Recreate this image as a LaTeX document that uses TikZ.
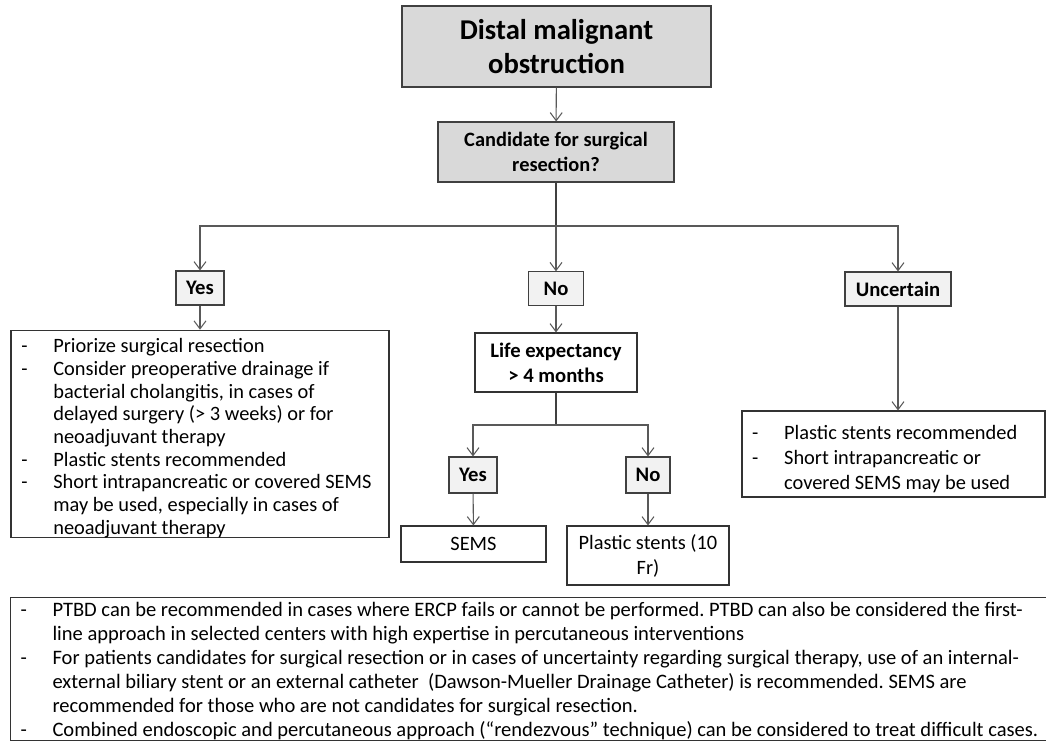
\documentclass[tikz,border=0pt]{standalone}
\usepackage{fontspec}
\setmainfont{Carlito}
\usetikzlibrary{arrows.meta,positioning}
\frenchspacing

% one list entry: dash, then hanging text
\newcommand{\dashitem}[1]{\par\noindent\hangindent=24pt\hangafter=1\makebox[24pt][l]{-}#1\par}

\tikzset{
  headbox/.style={draw=black!75,fill=black!15,line width=0.8pt,align=center,font=\bfseries},
  answer/.style={draw=black!75,fill=black!5,line width=0.8pt,align=center,inner sep=0pt,
    font=\fontsize{15.5pt}{18.75pt}\selectfont\bfseries},
  plainbox/.style={draw=black!80,fill=white,line width=0.8pt,align=center,inner sep=0pt,
    font=\fontsize{15.3pt}{18.75pt}\selectfont},
  listbox/.style={draw=black!80,fill=white,line width=0.8pt,align=flush left,inner sep=0pt,
    font=\fontsize{15.3pt}{17pt}\selectfont},
  link/.style={draw=black!65,line width=0.8pt,-{Straight Barb[length=6pt,width=9pt]}},
  joint/.style={draw=black!75,line width=1pt}
}

\begin{document}
\begin{tikzpicture}[x=0.75pt,y=-0.75pt]
\useasboundingbox (0,0) rectangle (1046,755);

% question boxes
\node[headbox,minimum width=231.75pt,minimum height=60.75pt,
  font=\fontsize{21.5pt}{26pt}\selectfont\bfseries] (top) at (556.5,46.5) {Distal malignant\\obstruction};
\node[headbox,minimum width=177pt,minimum height=45pt,inner sep=0pt,
  font=\fontsize{15.3pt}{18.75pt}\selectfont\bfseries] (cand) at (556,152) {Candidate for surgical\\resection?};

% first answers
\coordinate (split1) at (556,226);
\node[answer,minimum width=36pt,minimum height=25.5pt] (yes) at (200,288) {Yes};
\node[answer,minimum width=41.25pt,minimum height=25pt] (no) at (556,288.5) {No};
\node[answer,minimum width=79.5pt,minimum height=25.5pt] (unc) at (898,289) {Uncertain};

% surgical candidates
\node[listbox,minimum width=283.5pt,minimum height=154.5pt,text width=268pt] (yeslist) at (200,434) {%
  \dashitem{Priorize surgical resection}
  \dashitem{Consider preoperative drainage if\newline bacterial cholangitis, in cases of\newline delayed surgery (> 3 weeks) or for\newline neoadjuvant therapy}
  \dashitem{Plastic stents recommended}
  \dashitem{Short intrapancreatic or covered SEMS\newline may be used, especially in cases of\newline neoadjuvant therapy}};

% not candidates
\node[plainbox,minimum width=121.5pt,minimum height=44.25pt,font=\fontsize{15.5pt}{18.75pt}\selectfont\bfseries]
  (life) at (556,362.5) {Life expectancy\\> 4 months};
\coordinate (split2) at (556,425);
\node[answer,minimum width=36pt,minimum height=27pt] (yes2) at (473,475) {Yes};
\node[answer,minimum width=33pt,minimum height=27pt] (no2) at (648,475) {No};
\node[plainbox,minimum width=108.75pt,minimum height=27pt] (sems) at (473.5,544) {SEMS};
\node[plainbox,minimum width=121.5pt,minimum height=44.25pt] (plastic) at (648,555.5) {Plastic stents (10\\Fr)};

% uncertain
\node[listbox,minimum width=227.25pt,minimum height=64.5pt,text width=212pt,
  font=\fontsize{15.3pt}{18.75pt}\selectfont] (unclist) at (893.5,454) {%
  \dashitem{Plastic stents recommended}
  \dashitem{Short intrapancreatic or\newline covered SEMS may be used}};

% general notes
\node[listbox,anchor=north west,minimum width=790pt,text width=775pt,inner xsep=7.5pt,inner ysep=1pt,
  font=\fontsize{15.4pt}{18pt}\selectfont] (notes) at (10,597) {%
  \vspace*{-5pt}
  \dashitem{PTBD can be recommended in cases where ERCP fails or cannot be performed. PTBD can also be considered the first-\newline line approach in selected centers with high expertise in percutaneous interventions}
  \dashitem{For patients candidates for surgical resection or in cases of uncertainty regarding surgical therapy, use of an internal-\newline external biliary stent or an external catheter\ \ (Dawson-Mueller Drainage Catheter) is recommended. SEMS are\newline recommended for those who are not candidates for surgical resection.}
  \dashitem{Combined endoscopic and percutaneous approach (“rendezvous” technique) can be considered to treat difficult cases.}\vspace*{40pt}};

% connectors
\draw[link] (top) -- (cand);
\draw[joint] (cand) -- (split1);
\draw[link] (split1) -| (yes);
\draw[link] (split1) -- (no);
\draw[link] (split1) -| (unc);
\draw[link] (yes) -- (yeslist);
\draw[link] (no) -- (life);
\draw[joint] (life) -- (split2);
\draw[link] (split2) -| (yes2);
\draw[link] (split2) -| (no2);
\draw[link] (yes2) -- (sems);
\draw[link] (no2) -- (plastic);
\draw[link] (unc) -- (unc |- unclist.north);
\end{tikzpicture}
\end{document}
